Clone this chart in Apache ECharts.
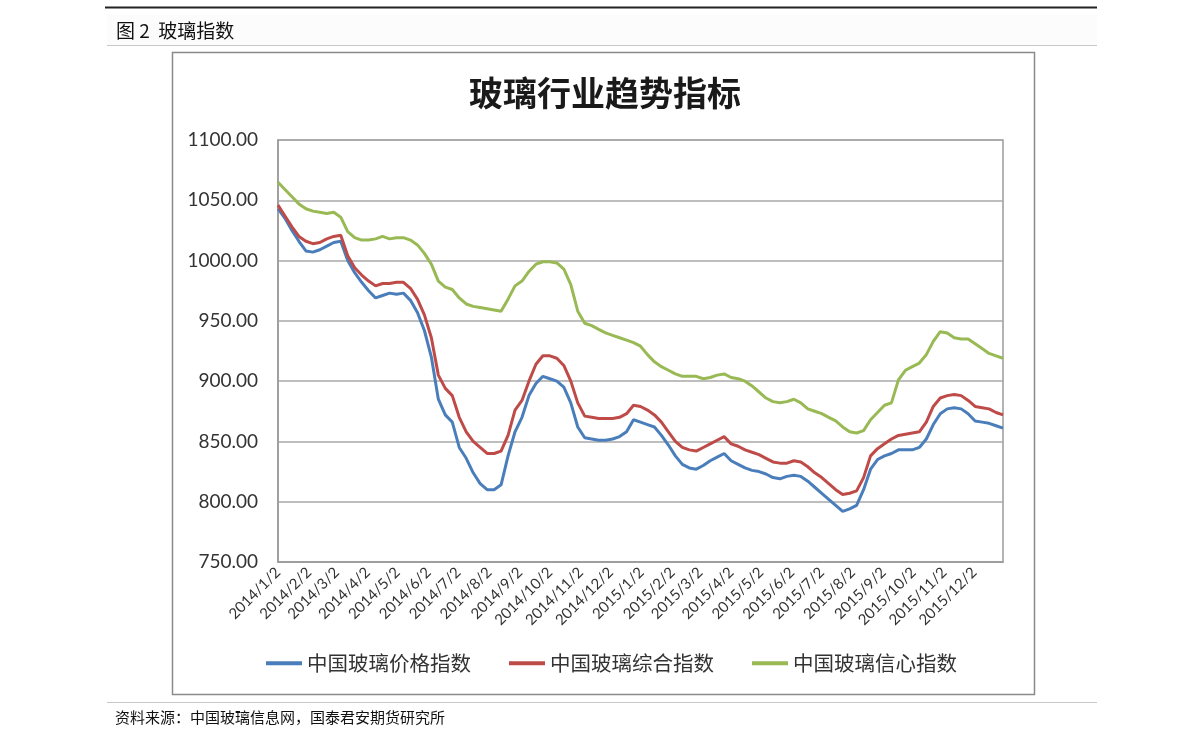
<!DOCTYPE html>
<html><head><meta charset="utf-8">
<script src="https://cdn.jsdelivr.net/npm/echarts@6/dist/echarts.min.js"></script>
<style>html,body{margin:0;padding:0;background:#fff}#c{width:1191px;height:745px}</style>
</head><body><div id="c"></div>
<script>
const seriesNames = ['中国玻璃价格指数', '中国玻璃综合指数', '中国玻璃信心指数'];
const tickLabels = ['2014/1/2','2014/2/2','2014/3/2','2014/4/2','2014/5/2','2014/6/2','2014/7/2','2014/8/2','2014/9/2','2014/10/2','2014/11/2','2014/12/2',
  '2015/1/2','2015/2/2','2015/3/2','2015/4/2','2015/5/2','2015/6/2','2015/7/2','2015/8/2','2015/9/2','2015/10/2','2015/11/2','2015/12/2'];
// weekly observations starting 2014/1/2
const priceIndex = [1043,1035,1025,1016,1008,1007,1009,1012,1015,1016,1000,990,982,975,969,971,973,972,973,967,957,942,920,885,872,866,845,836,824,815,810,810,814,838,858,870,888,898,904,902,900,895,882,862,853,852,851,851,852,854,858,868,866,864,862,855,847,838,831,828,827,830,834,837,840,834,831,828,826,825,823,820,819,821,822,821,817,812,807,802,797,792,794,797,810,827,835,838,840,843,843,843,845,852,864,873,877,878,877,873,867,866,865,863,861];
const compositeIndex = [1046,1037,1028,1020,1016,1014,1015,1018,1020,1021,1004,994,988,983,979,981,981,982,982,977,968,955,936,905,894,888,870,858,850,845,840,840,842,855,876,884,900,914,921,921,919,913,900,882,871,870,869,869,869,870,873,880,879,876,872,866,858,850,845,843,842,845,848,851,854,848,846,843,841,839,836,833,832,832,834,833,829,824,820,815,810,806,807,809,820,838,844,848,852,855,856,857,858,866,879,886,888,889,888,884,879,878,877,874,872];
const confidenceIndex = [1065,1059,1053,1047,1043,1041,1040,1039,1040,1036,1024,1019,1017,1017,1018,1020,1018,1019,1019,1017,1013,1006,997,983,978,976,969,964,962,961,960,959,958,968,979,983,991,997,999,999,998,993,980,958,948,946,943,940,938,936,934,932,929,922,916,912,909,906,904,904,904,902,903,905,906,903,902,900,896,891,886,883,882,883,885,882,877,875,873,870,867,862,858,857,859,868,874,880,882,901,909,912,915,922,933,941,940,936,935,935,931,927,923,921,919];

function fmt(d){ return d.getFullYear() + '/' + (d.getMonth() + 1) + '/' + d.getDate(); }
const days = [];
for (let i = 0; ; i++) {
  const t = new Date(2014, 0, 2 + i);
  if (t > new Date(2015, 11, 31)) break;
  days.push(fmt(t));
}
const weekDates = priceIndex.map((_, i) => fmt(new Date(2014, 0, 2 + 7 * i)));
const pair = arr => arr.map((v, i) => [weekDates[i], v]);
const tickSet = new Set(tickLabels);

const chart = echarts.init(document.getElementById('c'), null, {renderer: 'canvas'});
const lineColors = ['#4a7ebb', '#be4b48', '#98b954'];
chart.setOption({
  animation: false,
  backgroundColor: '#fff',
  color: lineColors,
  graphic: [
    {type: 'line', shape: {x1: 105, y1: 7.5, x2: 1097, y2: 7.5}, style: {stroke: '#222', lineWidth: 2}},
    {type: 'rect', shape: {x: 107, y: 14, width: 990, height: 31}, style: {fill: '#fcfcfc'}},
    {type: 'line', shape: {x1: 107, y1: 45.5, x2: 1097, y2: 45.5}, style: {stroke: '#c8c8c8', lineWidth: 1}},
    {type: 'text', x: 116, y: 31, style: {text: '图 2  玻璃指数', font: '19px "Noto Sans CJK SC"', fill: '#111', textVerticalAlign: 'middle'}},
    {type: 'rect', shape: {x: 172.5, y: 52.5, width: 862, height: 642}, style: {fill: 'none', stroke: '#8a8a8a', lineWidth: 1.5}},
    {type: 'text', x: 605, y: 93, style: {text: '玻璃行业趋势指标', font: 'bold 34px "Noto Sans CJK SC"', fill: '#1a1a1a', textAlign: 'center', textVerticalAlign: 'middle'}},
    {type: 'line', shape: {x1: 107, y1: 702.5, x2: 1097, y2: 702.5}, style: {stroke: '#c8c8c8', lineWidth: 1}},
    {type: 'text', x: 115, y: 717, style: {text: '资料来源：中国玻璃信息网，国泰君安期货研究所', font: '15px "Noto Sans CJK SC"', fill: '#111', textVerticalAlign: 'middle'}}
  ],
  legend: {
    left: 266, top: 653, padding: 0,
    icon: 'rect', itemWidth: 36, itemHeight: 4, itemGap: 38,
    textStyle: {fontFamily: 'Noto Sans CJK SC', fontSize: 20.5, color: '#333'},
    data: seriesNames
  },
  grid: {left: 278, right: 188, top: 140, bottom: 183, show: true, borderColor: '#9a9a9a', borderWidth: 1.5, containLabel: false},
  xAxis: {
    type: 'category', data: days, boundaryGap: false,
    axisLine: {lineStyle: {color: '#9a9a9a', width: 1.5}},
    axisTick: {show: false},
    splitLine: {show: false},
    axisLabel: {
      interval: (idx, val) => tickSet.has(val),
      rotate: 45, margin: 8,
      fontFamily: 'Lato', fontSize: 15, color: '#333'
    }
  },
  yAxis: {
    type: 'value', min: 750, max: 1100, interval: 50,
    axisLine: {show: true, lineStyle: {color: '#9a9a9a', width: 1.5}},
    axisTick: {show: false},
    splitLine: {lineStyle: {color: '#a8a8a8', width: 1.5}},
    axisLabel: {formatter: v => v.toFixed(2), margin: 20, fontFamily: 'Lato', fontSize: 19, color: '#333'}
  },
  series: [
    {name: seriesNames[0], type: 'line', data: pair(priceIndex), showSymbol: false, lineStyle: {width: 3}},
    {name: seriesNames[1], type: 'line', data: pair(compositeIndex), showSymbol: false, lineStyle: {width: 3}},
    {name: seriesNames[2], type: 'line', data: pair(confidenceIndex), showSymbol: false, lineStyle: {width: 3}}
  ]
});
</script></body></html>
